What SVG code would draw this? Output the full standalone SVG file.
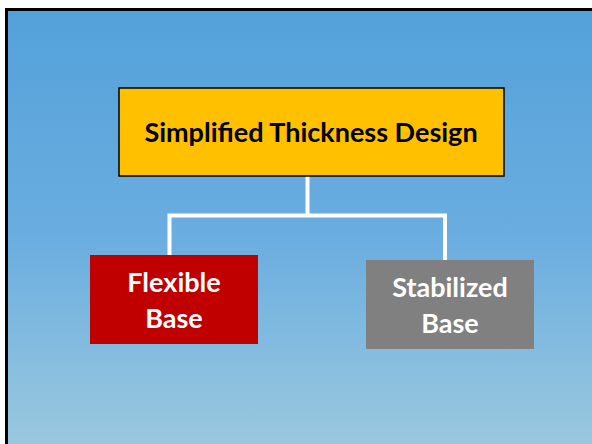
<svg xmlns="http://www.w3.org/2000/svg" width="592" height="444" viewBox="0 0 592 444">
  <defs>
    <linearGradient id="bg" x1="0" y1="0" x2="0" y2="1">
      <stop offset="0" stop-color="#53a1da"/>
      <stop offset="0.5" stop-color="#6aade0"/>
      <stop offset="1" stop-color="#9dcade"/>
    </linearGradient>
    <style>
      .lbl { font-family: "Lato", "Liberation Sans", sans-serif; font-weight: bold; text-anchor: middle; font-size: 27px; }
      .conn { stroke: #ffffff; stroke-width: 4; fill: none; }
    </style>
  </defs>
  <rect x="0" y="0" width="592" height="444" fill="#ffffff"/>
  <rect x="6.5" y="9.5" width="600" height="450" fill="url(#bg)" stroke="#000000" stroke-width="3"/>
  <g id="connectors">
    <path class="conn" d="M307.5 176 V215.5 M169.5 255 V215.5 H445 V260"/>
  </g>
  <g id="node-title">
    <rect x="119" y="88" width="385" height="88" fill="#ffc000" stroke="#000000" stroke-width="1.5"/>
    <text class="lbl" x="311" y="142" fill="#000000">Simplified Thickness Design</text>
  </g>
  <g id="node-flexible">
    <rect x="90" y="255" width="168" height="89" fill="#c00000"/>
    <text class="lbl" x="174" y="292" fill="#ffffff">Flexible</text>
    <text class="lbl" x="174" y="328" fill="#ffffff">Base</text>
  </g>
  <g id="node-stabilized">
    <rect x="366" y="260" width="168" height="89" fill="#808080"/>
    <text class="lbl" x="450" y="297" fill="#ffffff">Stabilized</text>
    <text class="lbl" x="450" y="333" fill="#ffffff">Base</text>
  </g>
</svg>
